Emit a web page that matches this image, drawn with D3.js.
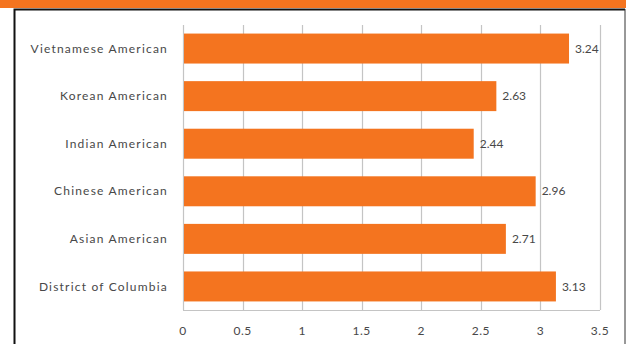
<!DOCTYPE html>
<html>
<head>
<meta charset="utf-8">
<script src="https://cdn.jsdelivr.net/npm/d3@7"></script>
<style>
  body { margin: 0; background: #fff; }
  svg { display: block; }
  text { font-family: Lato, "Open Sans", sans-serif; fill: #484848; }
</style>
</head>
<body>
<div id="chart"></div>
<script>
// chart data
const categories = ["Vietnamese American", "Korean American", "Indian American",
                    "Chinese American", "Asian American", "District of Columbia"];
const values = [3.24, 2.63, 2.44, 2.96, 2.71, 3.13];
const xTicks = [0, 0.5, 1, 1.5, 2, 2.5, 3, 3.5];

const width = 626, height = 344;
const margin = {top: 25, right: 26, bottom: 34, left: 183};
const orange = "#f4741f";

let svg = d3.select("#chart").append("svg")
    .attr("width", width)
    .attr("height", height);

// orange band and black frame
svg.append("rect")
    .attr("x", 0).attr("y", 0)
    .attr("width", width).attr("height", 8)
    .attr("fill", orange);
svg.append("path")
    .attr("d", "M14.5,344 V9.5 H625")
    .attr("fill", "none")
    .attr("stroke", "#111")
    .attr("stroke-width", 2);
svg.append("line")
    .attr("x1", 625).attr("x2", 625)
    .attr("y1", 9).attr("y2", height)
    .attr("stroke", "#333").attr("stroke-width", 1);

let x = d3.scaleLinear()
    .domain([0, 3.5])
    .range([margin.left, width - margin.right]);

let y = d3.scaleBand()
    .domain(categories)
    .range([margin.top, height - margin.bottom])
    .paddingInner(0.37)
    .paddingOuter(0.18);

// gridlines
svg.append("g")
    .selectAll("line")
    .data(xTicks)
    .enter().append("line")
    .attr("x1", d => Math.round(x(d)) + 0.5)
    .attr("x2", d => Math.round(x(d)) + 0.5)
    .attr("y1", margin.top)
    .attr("y2", height - margin.bottom)
    .attr("stroke", "#c4c4c4")
    .attr("stroke-width", 1.2);

// bottom axis line
svg.append("line")
    .attr("x1", x(0)).attr("x2", x(3.5))
    .attr("y1", height - margin.bottom + 0.5)
    .attr("y2", height - margin.bottom + 0.5)
    .attr("stroke", "#c4c4c4")
    .attr("stroke-width", 1.2);

// bars
svg.append("g")
    .selectAll("rect")
    .data(values)
    .enter().append("rect")
    .attr("x", x(0) + 1)
    .attr("y", (d, i) => y(categories[i]))
    .attr("width", d => x(d) - x(0) - 1)
    .attr("height", y.bandwidth())
    .attr("fill", orange);

// value labels
svg.append("g")
    .selectAll("text")
    .data(values)
    .enter().append("text")
    .attr("x", d => x(d) + 6)
    .attr("y", (d, i) => y(categories[i]) + y.bandwidth() / 2)
    .attr("dy", "0.35em")
    .attr("font-size", 12)
    .text(d => d.toFixed(2));

// category labels
svg.append("g")
    .selectAll("text")
    .data(categories)
    .enter().append("text")
    .attr("x", margin.left - 15)
    .attr("y", d => y(d) + y.bandwidth() / 2)
    .attr("dy", "0.35em")
    .attr("text-anchor", "end")
    .attr("font-size", 12)
    .attr("letter-spacing", 1.2)
    .text(d => d);

// x tick labels
svg.append("g")
    .selectAll("text")
    .data(xTicks)
    .enter().append("text")
    .attr("x", d => x(d))
    .attr("y", 331)
    .attr("dy", "0.35em")
    .attr("text-anchor", "middle")
    .attr("font-size", 12)
    .attr("letter-spacing", 0.5)
    .text(d => d);
</script>
</body>
</html>
